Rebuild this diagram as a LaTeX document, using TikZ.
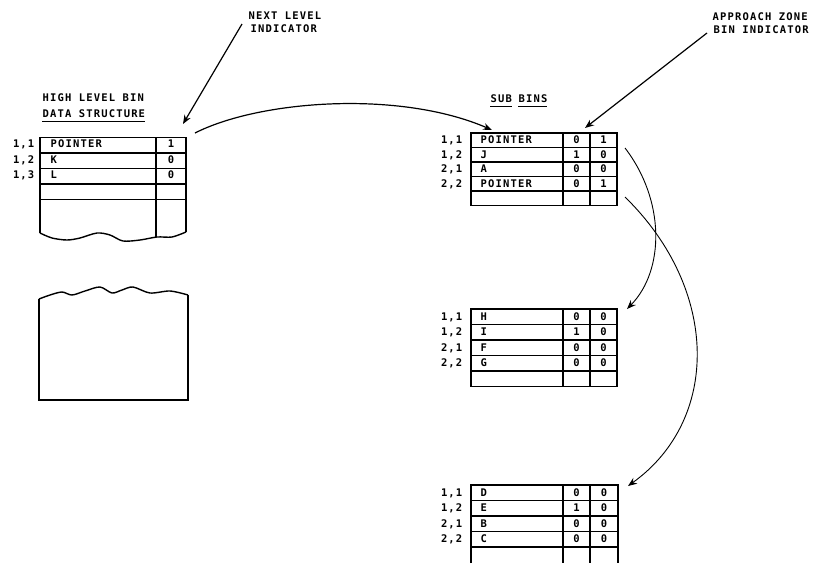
\documentclass[tikz,border=0pt]{standalone}
\usepackage{fontspec}
\newfontfamily\binfont{DejaVu Sans Mono}[LetterSpace=11]
\usetikzlibrary{arrows.meta}
\begin{document}
\begin{tikzpicture}
  [x=1pt,y=-1pt,line width=1.4pt,
   every node/.style={inner sep=0pt,font=\binfont\bfseries\fontsize{10.5}{12}\selectfont},
   ptr/.style={line width=1.2pt,-{Stealth[length=9pt,width=7pt]}}]
  \useasboundingbox (0,0) rectangle (817,563);

  % headings
  \node[anchor=base west] (nl1) at (248,19) {NEXT LEVEL};
  \node[anchor=base west] (nl2) at (250,32) {INDICATOR};
  \node[anchor=base west] (az1) at (712,20) {APPROACH ZONE};
  \node[anchor=base west] (az2) at (713,33) {BIN INDICATOR};
  \node[anchor=base west] (hl1) at (42,101) {HIGH LEVEL BIN};
  \node[anchor=base west] (hl2) at (42,117) {DATA STRUCTURE};
  \node[anchor=base west] (sb1) at (490,102) {SUB};
  \node[anchor=base west] (sb2) at (518,102) {BINS};
  \foreach \n in {hl2,sb1,sb2}
    \draw[line width=1pt] ([yshift=-4pt]\n.base west) -- ([yshift=-4pt,xshift=-1pt]\n.base east);

  % high level bin table
  \draw (40,233) -- (40,137.5) -- (186,137.5) -- (186,232);
  \draw (156,137.5) -- (156,237);
  \foreach \y in {153,168.5,184,199.5}
    \draw (40,\y) -- (186,\y);
  \draw plot[smooth] coordinates {(40,233) (52,238) (67,240) (80,238) (97,233) (110,235)
    (123,241) (140,240) (157,237) (172,237) (186,232)};
  \foreach \r/\lab/\txt/\v in {1/{1,1}/POINTER/1, 2/{1,2}/K/0, 3/{1,3}/L/0} {
    \pgfmathsetmacro\yy{137.5+15.5*\r-7.75+2.5}
    \node[anchor=base east] (ha\r) at (35,\yy) {\lab};
    \node[anchor=base west] (hn\r) at (50,\yy) {\txt};
    \node[anchor=base] (hv\r) at (171,\yy) {\v};
  }

  % lower part of the same table
  \draw (39,299) -- (39,400) -- (188,400) -- (188,295);
  \draw plot[smooth] coordinates {(39,299) (50,295) (62,292) (72,295) (85,291) (100,287)
    (112,293) (122,290) (133,287) (150,293) (170,291) (188,295)};

  % sub bin tables
  \foreach \t/\h in {133/14.5, 309/15.5} {
    \draw (471,\t) rectangle (617,\t+5*\h);
    \foreach \k in {1,...,4}
      \draw (471,\t+\k*\h) -- (617,\t+\k*\h);
    \draw (563,\t) -- (563,\t+5*\h) (590,\t) -- (590,\t+5*\h);
  }
  \draw (471,563) -- (471,485) -- (618,485) -- (618,563);
  \draw (563,485) -- (563,563) (590,485) -- (590,563);
  \foreach \y in {500.5,516,531.5,547}
    \draw (471,\y) -- (618,\y);

  \foreach \r/\lab/\txt/\a/\b in {1/{1,1}/POINTER/0/1, 2/{1,2}/J/1/0, 3/{2,1}/A/0/0, 4/{2,2}/POINTER/0/1} {
    \pgfmathsetmacro\yy{133+14.5*\r-7.25+3.5}
    \node[anchor=base east] (sa\r) at (463,\yy) {\lab};
    \node[anchor=base west] (sn\r) at (480,\yy) {\txt};
    \node[anchor=base] (sx\r) at (576.5,\yy) {\a};
    \node[anchor=base] (sy\r) at (603.5,\yy) {\b};
  }
  \foreach \r/\lab/\txt/\a/\b in {1/{1,1}/H/0/0, 2/{1,2}/I/1/0, 3/{2,1}/F/0/0, 4/{2,2}/G/0/0} {
    \pgfmathsetmacro\yy{309+15.5*\r-7.75+3.5}
    \node[anchor=base east] (ta\r) at (463,\yy) {\lab};
    \node[anchor=base west] (tn\r) at (480,\yy) {\txt};
    \node[anchor=base] (tx\r) at (576.5,\yy) {\a};
    \node[anchor=base] (ty\r) at (603.5,\yy) {\b};
  }
  \foreach \r/\lab/\txt/\a/\b in {1/{1,1}/D/0/0, 2/{1,2}/E/1/0, 3/{2,1}/B/0/0, 4/{2,2}/C/0/0} {
    \pgfmathsetmacro\yy{485+15.5*\r-7.75+3.5}
    \node[anchor=base east] (ua\r) at (463,\yy) {\lab};
    \node[anchor=base west] (un\r) at (480,\yy) {\txt};
    \node[anchor=base] (ux\r) at (576.5,\yy) {\a};
    \node[anchor=base] (uy\r) at (604,\yy) {\b};
  }

  % pointers
  \coordinate (nlfrom) at (242,24);
  \coordinate (nlto) at (183,124);
  \coordinate (azfrom) at (707,33);
  \coordinate (azto) at (585,128);
  \coordinate (hlout) at (195,133);
  \coordinate (sbin) at (492,130);
  \coordinate (p11) at (625,148);
  \coordinate (p22) at (625,197);
  \coordinate (t2) at (627,309);
  \coordinate (t3) at (628,486);
  \draw[ptr] (nlfrom) -- (nlto);
  \draw[ptr] (azfrom) -- (azto);
  \draw[ptr] (hlout) .. controls (260,100) and (400,90) .. (sbin);
  \draw[ptr,line width=.9pt] (p11) .. controls (665,200) and (665,270) .. (t2);
  \draw[ptr,line width=.9pt] (p22) .. controls (720,290) and (720,420) .. (t3);
\end{tikzpicture}
\end{document}
